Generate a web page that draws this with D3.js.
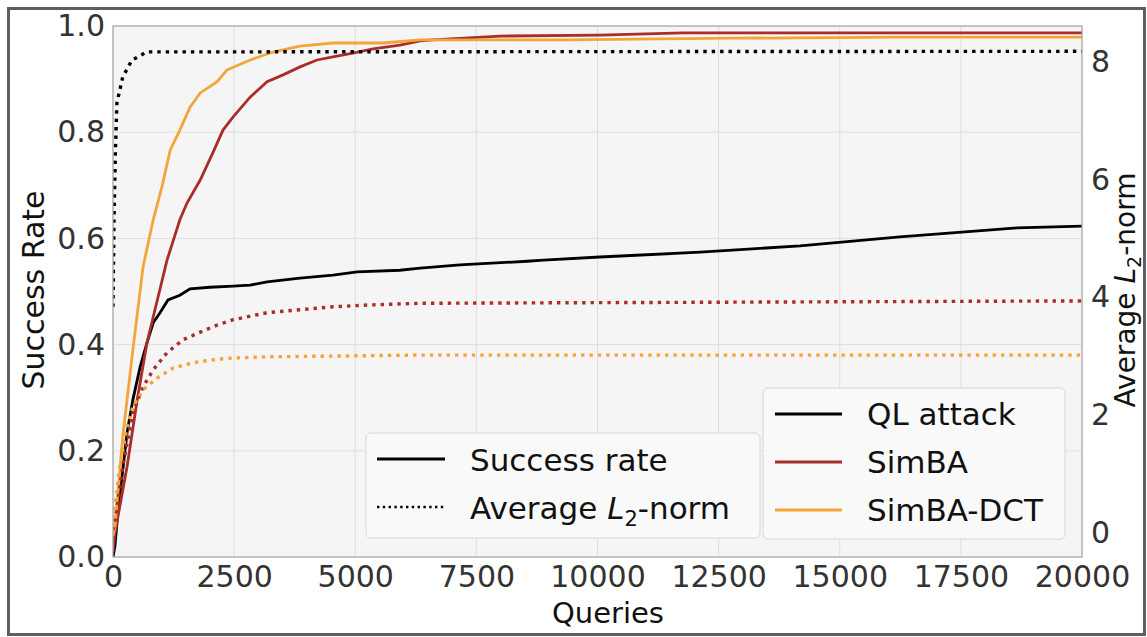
<!DOCTYPE html>
<html>
<head>
<meta charset="utf-8">
<script src="https://cdn.jsdelivr.net/npm/d3@7"></script>
<style>
  body { margin: 0; background: #fff; }
  svg { display: block; font-family: "DejaVu Sans", sans-serif; }
</style>
</head>
<body>
<div id="chart"></div>
<script>
// x ticks (queries) and y ticks
const xTicks = [0, 2500, 5000, 7500, 10000, 12500, 15000, 17500, 20000];
const leftTicks = [0, 0.2, 0.4, 0.6, 0.8, 1.0];
const rightTicks = [0, 2, 4, 6, 8];

// QL attack - success rate (left axis)
const qlQ    = [0, 40, 100, 290, 410, 560, 700, 830, 970, 1135, 1380, 1590, 2000, 2480, 2830, 3180, 3860, 4540, 5040, 5920, 6340, 7160, 8550, 8880, 10050, 12120, 14180, 16240, 18660, 20000];
const qlRate = [0, 0.02, 0.083, 0.234, 0.296, 0.358, 0.403, 0.441, 0.46, 0.484, 0.493, 0.505, 0.508, 0.51, 0.512, 0.518, 0.525, 0.531, 0.537, 0.54, 0.544, 0.55, 0.557, 0.559, 0.565, 0.574, 0.586, 0.603, 0.62, 0.623];
// QL attack - average L2 norm (right axis)
const qlNormQ = [0, 20, 50, 80, 200, 390, 700, 20000];
const qlNorm  = [3.84, 5.31, 6.5, 7.3, 7.74, 8.03, 8.17, 8.18];

// SimBA
const simbaQ    = [0, 40, 290, 500, 700, 830, 1115, 1380, 1530, 1800, 2060, 2270, 2480, 2830, 3180, 3510, 3860, 4210, 4540, 4950, 5370, 5920, 6340, 6600, 7990, 10050, 11770, 20000];
const simbaRate = [0.01, 0.045, 0.17, 0.296, 0.403, 0.452, 0.559, 0.635, 0.667, 0.71, 0.761, 0.804, 0.829, 0.866, 0.895, 0.908, 0.923, 0.936, 0.942, 0.949, 0.957, 0.964, 0.972, 0.974, 0.981, 0.983, 0.987, 0.987];
const simbaNormQ = [0, 40, 200, 410, 620, 830, 1115, 1445, 1800, 2150, 2480, 3180, 3860, 4540, 5240, 6340, 20000];
const simbaNorm  = [0.05, 0.2, 1.12, 2.04, 2.48, 2.77, 3.06, 3.28, 3.41, 3.53, 3.62, 3.74, 3.79, 3.84, 3.87, 3.9, 3.94];

// SimBA-DCT
const dctQ    = [0, 40, 210, 410, 620, 830, 1010, 1180, 1380, 1590, 1800, 2150, 2350, 2830, 3300, 3860, 4540, 5570, 6340, 9370, 12800, 16240, 20000];
const dctRate = [0.04, 0.056, 0.234, 0.39, 0.546, 0.635, 0.697, 0.766, 0.804, 0.847, 0.874, 0.895, 0.917, 0.936, 0.951, 0.962, 0.968, 0.968, 0.974, 0.974, 0.977, 0.979, 0.979];
const dctNormQ = [0, 40, 140, 290, 410, 620, 910, 1240, 1650, 2150, 2480, 3180, 6340, 20000];
const dctNorm  = [0.1, 0.44, 1.12, 1.8, 2.14, 2.43, 2.63, 2.8, 2.89, 2.95, 2.97, 2.99, 3.02, 3.02];

const W = 1147, H = 637;
const plot = { left: 113, right: 1082, top: 26, bottom: 557 };

const svg = d3.select("#chart").append("svg")
  .attr("width", W).attr("height", H);

// figure frame
svg.append("rect")
  .attr("x", 8.5).attr("y", 8.5).attr("width", 1136).attr("height", 626)
  .attr("fill", "#fff").attr("stroke", "#5e5e5e").attr("stroke-width", 3);

// scales
const x = d3.scaleLinear().domain([0, 20000]).range([plot.left, plot.right]);
const yL = d3.scaleLinear().domain([0, 1]).range([plot.bottom, plot.top]);
const yR = d3.scaleLinear().domain([-0.41, 8.61]).range([plot.bottom, plot.top]);

// plot background
svg.append("rect")
  .attr("x", plot.left).attr("y", plot.top)
  .attr("width", plot.right - plot.left).attr("height", plot.bottom - plot.top)
  .attr("fill", "#f5f5f5");

// grid
svg.append("g").selectAll("line").data(xTicks).enter().append("line")
  .attr("x1", d => x(d)).attr("x2", d => x(d))
  .attr("y1", plot.top).attr("y2", plot.bottom)
  .attr("stroke", "#dedede").attr("stroke-width", 1);
svg.append("g").selectAll("line").data(leftTicks).enter().append("line")
  .attr("x1", plot.left).attr("x2", plot.right)
  .attr("y1", d => yL(d)).attr("y2", d => yL(d))
  .attr("stroke", "#dedede").attr("stroke-width", 1);

// lines
const line = (qs, vs, y) => d3.line()
  .x(i => x(qs[i])).y(i => y(vs[i]))(d3.range(qs.length));

const series = [
  { q: qlQ, v: qlRate, y: yL, color: "#000000", dash: null },
  { q: simbaQ, v: simbaRate, y: yL, color: "#a92d29", dash: null },
  { q: dctQ, v: dctRate, y: yL, color: "#f2a538", dash: null },
  { q: qlNormQ, v: qlNorm, y: yR, color: "#000000", dash: "3.4,5" },
  { q: simbaNormQ, v: simbaNorm, y: yR, color: "#a92d29", dash: "3.4,5" },
  { q: dctNormQ, v: dctNorm, y: yR, color: "#f2a538", dash: "3.4,5" }
];

svg.append("clipPath").attr("id", "clip").append("rect")
  .attr("x", plot.left).attr("y", plot.top - 2)
  .attr("width", plot.right - plot.left).attr("height", plot.bottom - plot.top + 2);

svg.append("g").attr("clip-path", "url(#clip)")
  .selectAll("path").data(series).enter().append("path")
  .attr("d", s => line(s.q, s.v, s.y))
  .attr("fill", "none")
  .attr("stroke", s => s.color)
  .attr("stroke-width", s => s.dash ? 3.4 : 2.8)
  .attr("stroke-dasharray", s => s.dash);

// plot border
svg.append("rect")
  .attr("x", plot.left).attr("y", plot.top)
  .attr("width", plot.right - plot.left).attr("height", plot.bottom - plot.top)
  .attr("fill", "none").attr("stroke", "#a8a8a8").attr("stroke-width", 1.2);

// axes
const xAxis = svg.append("g")
  .attr("transform", `translate(0,${plot.bottom})`)
  .call(d3.axisBottom(x).tickValues(xTicks).tickSize(0).tickPadding(9).tickFormat(d3.format("d")));
const leftAxis = svg.append("g")
  .attr("transform", `translate(${plot.left},0)`)
  .call(d3.axisLeft(yL).tickValues(leftTicks).tickSize(0).tickPadding(8).tickFormat(d3.format(".1f")));
const rightAxis = svg.append("g")
  .attr("transform", `translate(${plot.right},0)`)
  .call(d3.axisRight(yR).tickValues(rightTicks).tickSize(0).tickPadding(9).tickFormat(d3.format("d")));

[xAxis, leftAxis, rightAxis].forEach(a => {
  a.select(".domain").remove();
  a.selectAll("text")
    .attr("font-size", 30)
    .attr("font-family", "DejaVu Sans")
    .attr("fill", "#333");
});

// axis labels
svg.append("text")
  .attr("x", 608).attr("y", 623)
  .attr("text-anchor", "middle")
  .attr("font-size", 29).attr("fill", "#111")
  .text("Queries");

svg.append("text")
  .attr("transform", "translate(44,290) rotate(-90)")
  .attr("text-anchor", "middle")
  .attr("font-size", 30).attr("fill", "#111")
  .text("Success Rate");

const rl = svg.append("text")
  .attr("transform", "translate(1135,290) rotate(-90)")
  .attr("text-anchor", "middle")
  .attr("font-size", 28).attr("fill", "#111");
rl.append("tspan").text("Average ");
rl.append("tspan").attr("font-style", "italic").text("L");
rl.append("tspan").attr("font-size", 19).attr("dy", 6).text("2");
rl.append("tspan").attr("dy", -6).text("-norm");

// legends
function legendBox(x0, y0, w, h) {
  svg.append("rect")
    .attr("x", x0).attr("y", y0).attr("width", w).attr("height", h)
    .attr("rx", 5).attr("ry", 5)
    .attr("fill", "#fafafa").attr("fill-opacity", 0.9)
    .attr("stroke", "#d6d6d6").attr("stroke-width", 1);
}

// style legend
legendBox(366, 433, 394, 105);
const styleItems = [
  { label: "Success rate", dash: null, y: 459 },
  { label: "Average", dash: "2.4,3.4", y: 507 }
];
styleItems.forEach(d => {
  svg.append("line")
    .attr("x1", 377).attr("x2", 445).attr("y1", d.y).attr("y2", d.y)
    .attr("stroke", "#000").attr("stroke-width", d.dash ? 2.4 : 2.8)
    .attr("stroke-dasharray", d.dash);
  const t = svg.append("text")
    .attr("x", 470).attr("y", d.y + 12)
    .attr("font-size", 31).attr("fill", "#111");
  if (d.dash) {
    t.append("tspan").text("Average ");
    t.append("tspan").attr("font-style", "italic").text("L");
    t.append("tspan").attr("font-size", 21).attr("dy", 7).text("2");
    t.append("tspan").attr("dy", -7).text("-norm");
  } else {
    t.text(d.label);
  }
});

// method legend
legendBox(763, 388, 302, 151);
const methodItems = [
  { label: "QL attack", color: "#000000", y: 414 },
  { label: "SimBA", color: "#a92d29", y: 462 },
  { label: "SimBA-DCT", color: "#f2a538", y: 510 }
];
methodItems.forEach(d => {
  svg.append("line")
    .attr("x1", 775).attr("x2", 842).attr("y1", d.y).attr("y2", d.y)
    .attr("stroke", d.color).attr("stroke-width", 2.8);
  svg.append("text")
    .attr("x", 867).attr("y", d.y + 11)
    .attr("font-size", 31).attr("fill", "#111")
    .text(d.label);
});
</script>
</body>
</html>
